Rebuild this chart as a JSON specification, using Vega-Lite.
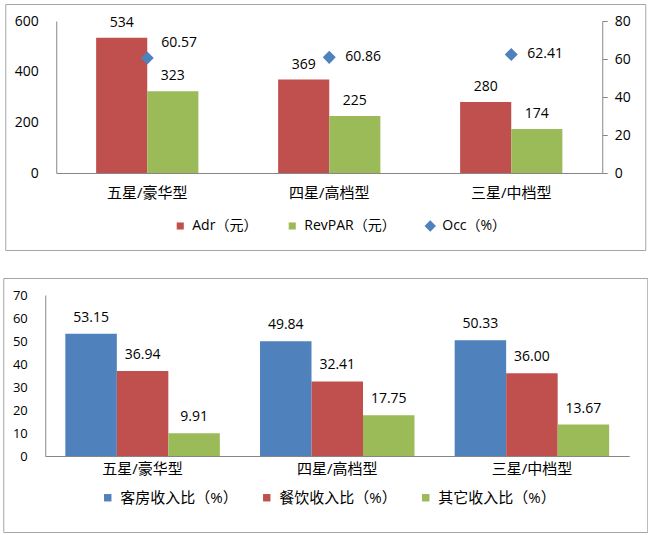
{
  "$schema": "https://vega.github.io/schema/vega-lite/v6.json",
  "padding": {"left": 2, "top": 3, "right": 0, "bottom": 0},
  "background": "white",
  "spacing": 26,
  "center": true,
  "config": {
    "view": {"stroke": "#a6a6a6", "strokeWidth": 1},
    "font": "Open Sans, Noto Sans CJK SC",
    "axis": {"domainColor": "#868686", "tickColor": "#868686", "grid": false, "labelColor": "#000000", "labelFont": "Open Sans, Noto Sans CJK SC", "title": null},
    "legend": {"orient": "none", "direction": "horizontal", "title": null, "labelFont": "Open Sans, Noto Sans CJK SC", "labelFontSize": 14, "labelColor": "#000000", "symbolSize": 55, "labelOffset": 5, "padding": 0},
    "text": {"font": "Open Sans, Noto Sans CJK SC", "fontSize": 14, "color": "#000000"}
  },
  "resolve": {
    "scale": {"color": "independent", "xOffset": "independent", "shape": "independent"},
    "legend": {"color": "independent", "shape": "independent"}
  },
  "datasets": {
    "top": [
      {"cat": "五星/豪华型", "series": "Adr（元）", "value": 534},
      {"cat": "四星/高档型", "series": "Adr（元）", "value": 369},
      {"cat": "三星/中档型", "series": "Adr（元）", "value": 280},
      {"cat": "五星/豪华型", "series": "RevPAR（元）", "value": 323},
      {"cat": "四星/高档型", "series": "RevPAR（元）", "value": 225},
      {"cat": "三星/中档型", "series": "RevPAR（元）", "value": 174},
      {"cat": "五星/豪华型", "series": "Occ（%）", "value": 60.57},
      {"cat": "四星/高档型", "series": "Occ（%）", "value": 60.86},
      {"cat": "三星/中档型", "series": "Occ（%）", "value": 62.41}
    ],
    "bottom": [
      {"cat": "五星/豪华型", "series": "客房收入比（%）", "value": 53.15},
      {"cat": "四星/高档型", "series": "客房收入比（%）", "value": 49.84},
      {"cat": "三星/中档型", "series": "客房收入比（%）", "value": 50.33},
      {"cat": "五星/豪华型", "series": "餐饮收入比（%）", "value": 36.94},
      {"cat": "四星/高档型", "series": "餐饮收入比（%）", "value": 32.41},
      {"cat": "三星/中档型", "series": "餐饮收入比（%）", "value": 36.00},
      {"cat": "五星/豪华型", "series": "其它收入比（%）", "value": 9.91},
      {"cat": "四星/高档型", "series": "其它收入比（%）", "value": 17.75},
      {"cat": "三星/中档型", "series": "其它收入比（%）", "value": 13.67}
    ]
  },
  "vconcat": [
    {
      "width": 640,
      "height": 246,
      "data": {"name": "top"},
      "encoding": {
        "x": {"field": "cat", "type": "nominal", "sort": ["五星/豪华型", "四星/高档型", "三星/中档型"],
          "scale": {"range": [51, 597], "paddingInner": 0, "paddingOuter": 0},
          "axis": {"orient": "bottom", "offset": -77, "labelAngle": 0, "ticks": false, "labelPadding": 12, "labelFontSize": 15}}
      },
      "layer": [
        {
          "transform": [{"filter": "datum.series !== 'Occ（%）'"}],
          "encoding": {
            "xOffset": {"field": "series", "type": "nominal", "scale": {"domain": ["Adr（元）", "RevPAR（元）"], "paddingInner": 0, "paddingOuter": 0.78}},
            "y": {"field": "value", "type": "quantitative",
              "scale": {"domain": [0, 600], "range": [169, 17], "nice": false},
              "axis": {"orient": "left", "offset": -51, "values": [0, 200, 400, 600], "ticks": false, "labelPadding": 18, "labelFontSize": 14}}
          },
          "layer": [
            {"mark": {"type": "bar"},
             "encoding": {"color": {"field": "series", "type": "nominal",
               "scale": {"domain": ["Adr（元）", "RevPAR（元）", "Occ（%）"], "range": ["#C0504D", "#9BBB59", "#4F81BD"]},
               "legend": {"legendX": 168, "legendY": 215, "columnPadding": 27,
                 "encode": {"symbols": {"update": {"size": {"signal": "datum.value === 'Occ（%）' ? 130 : 50"}}}}}}}},
            {"mark": {"type": "text", "baseline": "middle", "dy": -15},
             "encoding": {"text": {"field": "value", "type": "quantitative", "format": "d"}}}
          ]
        },
        {
          "transform": [{"filter": "datum.series === 'Occ（%）'"}],
          "encoding": {
            "y": {"field": "value", "type": "quantitative",
              "scale": {"domain": [0, 80], "range": [169, 17], "nice": false},
              "axis": {"orient": "right", "offset": -43, "values": [0, 20, 40, 60, 80], "tickSize": 5, "labelPadding": 7, "labelFontSize": 14}}
          },
          "layer": [
            {"mark": {"type": "point", "filled": true, "size": 170, "opacity": 1},
             "encoding": {
               "color": {"field": "series", "type": "nominal",
                 "legend": {"legendX": 168, "legendY": 215, "columnPadding": 27,
                   "encode": {"symbols": {"update": {"size": {"signal": "datum.value === 'Occ（%）' ? 130 : 50"}}}}}},
               "shape": {"field": "series", "type": "nominal",
                 "scale": {"domain": ["Adr（元）", "RevPAR（元）", "Occ（%）"], "range": ["square", "square", "diamond"]},
                 "legend": {"legendX": 168, "legendY": 215, "columnPadding": 27,
                   "encode": {"symbols": {"update": {"size": {"signal": "datum.value === 'Occ（%）' ? 130 : 50"}}}}}}
             }},
            {"transform": [{"filter": "datum.cat === '五星/豪华型'"}],
             "mark": {"type": "text", "align": "left", "baseline": "middle", "dx": 14, "dy": -15},
             "encoding": {"text": {"field": "value", "type": "quantitative", "format": ".2f"}}},
            {"transform": [{"filter": "datum.cat !== '五星/豪华型'"}],
             "mark": {"type": "text", "align": "left", "baseline": "middle", "dx": 16, "dy": 0},
             "encoding": {"text": {"field": "value", "type": "quantitative", "format": ".2f"}}}
          ]
        }
      ],
      "resolve": {"scale": {"y": "independent"}}
    },
    {
      "width": 644,
      "height": 254,
      "data": {"name": "bottom"},
      "encoding": {
        "x": {"field": "cat", "type": "nominal", "sort": ["五星/豪华型", "四星/高档型", "三星/中档型"],
          "scale": {"range": [42, 626], "paddingInner": 0, "paddingOuter": 0},
          "axis": {"orient": "bottom", "offset": -76, "labelAngle": 0, "ticks": false, "labelPadding": 5, "labelFontSize": 15}},
        "xOffset": {"field": "series", "type": "nominal", "scale": {"domain": ["客房收入比（%）", "餐饮收入比（%）", "其它收入比（%）"], "paddingInner": 0, "paddingOuter": 0.39}},
        "y": {"field": "value", "type": "quantitative",
          "scale": {"domain": [0, 70], "range": [178, 17], "nice": false},
          "axis": {"orient": "left", "offset": -42, "values": [0, 10, 20, 30, 40, 50, 60, 70], "ticks": false, "labelPadding": 18, "labelFontSize": 13}}
      },
      "layer": [
        {"mark": {"type": "bar"},
         "encoding": {"color": {"field": "series", "type": "nominal",
           "scale": {"domain": ["客房收入比（%）", "餐饮收入比（%）", "其它收入比（%）"], "range": ["#4F81BD", "#C0504D", "#9BBB59"]},
           "legend": {"legendX": 97, "legendY": 212, "columnPadding": 21, "symbolType": "square", "labelFontSize": 15}}}},
        {"mark": {"type": "text", "baseline": "middle", "dy": -16},
         "encoding": {"text": {"field": "value", "type": "quantitative", "format": ".2f"}}}
      ]
    }
  ]
}
